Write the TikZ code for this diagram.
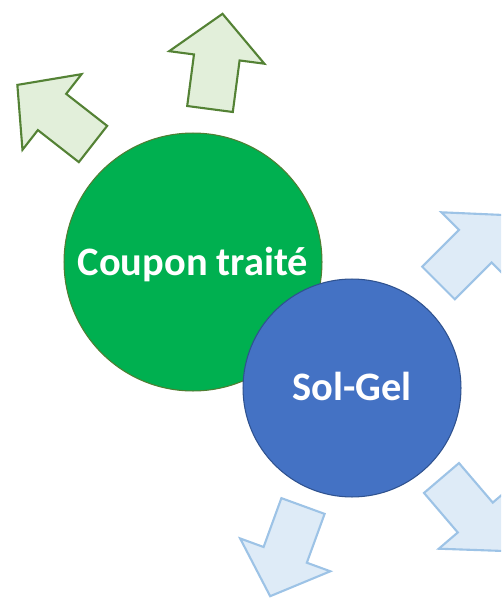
\documentclass[tikz,border=0pt]{standalone}
\usepackage{fontspec}
\usepackage{tikz}
\newfontfamily\calibri{Carlito}
\definecolor{couponGreen}{HTML}{00B050}
\definecolor{couponEdge}{HTML}{507E32}
\definecolor{solGelBlue}{HTML}{4472C4}
\definecolor{solGelEdge}{HTML}{2F528F}
\definecolor{leafFill}{HTML}{E2EFDA}
\definecolor{leafEdge}{HTML}{548235}
\definecolor{skyFill}{HTML}{DEEBF7}
\definecolor{skyEdge}{HTML}{9DC3E6}
\tikzstyle{pixels} = [x = 0.02cm, y = -0.02cm]
\tikzstyle{bubbleStyle} = [circle, inner sep = 0pt, line width = .6pt]
\tikzstyle{bubbleText} = [anchor = base, text = white, font = \calibri\bfseries\fontsize{23}{27}\selectfont]
\tikzstyle{greenArrowStyle} = [fill = leafFill, draw = leafEdge, line width = 1.2pt]
\tikzstyle{blueArrowStyle} = [fill = skyFill, draw = skyEdge, line width = 1.2pt]
\newcommand{\shaftEnd}{52}
\newcommand{\shaftHalf}{23}
\newcommand{\headHalf}{48}
\newcommand{\tipEnd}{96}
\newcommand{\blockArrow}[4]{\filldraw [#4, shift = {(#1, #2)}, rotate = #3] (0, -\shaftHalf) -- (\shaftEnd, -\shaftHalf) -- (\shaftEnd, -\headHalf) -- (\tipEnd, 0) -- (\shaftEnd, \headHalf) -- (\shaftEnd, \shaftHalf) -- (0, \shaftHalf) -- cycle;}

\begin{document}
\begin{tikzpicture}[pixels]
          \useasboundingbox (0,0) rectangle (501,598);
          \clip (0,0) rectangle (501,598);
          \blockArrow{210}{109}{82.5}{greenArrowStyle}
          \blockArrow{93}{144}{142}{greenArrowStyle}
          \blockArrow{438.5}{283}{45}{blueArrowStyle}
          \blockArrow{441.5}{478}{-49.5}{blueArrowStyle}
          \blockArrow{303}{506}{-110}{blueArrowStyle}
          \node [bubbleStyle, fill = couponGreen, draw = couponEdge, minimum size = 5.16cm] (coupon) at (193,262) {};
          \node [bubbleStyle, fill = solGelBlue, draw = solGelEdge, minimum size = 4.36cm] (solGel) at (352,388) {};
          \node [bubbleText] (couponLabel) at (193,275) {Coupon traité};
          \node [bubbleText] (solGelLabel) at (352,400) {Sol-Gel};
        \end{tikzpicture}
\end{document}
